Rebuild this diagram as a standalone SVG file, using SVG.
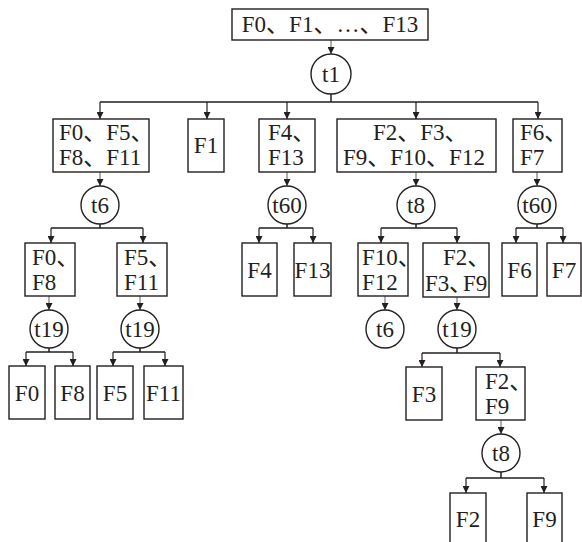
<svg xmlns="http://www.w3.org/2000/svg" width="582" height="542" viewBox="0 0 582 542">
<style>
rect, circle { fill: #fff; stroke: #231f20; stroke-width: 1.4; }
text { font-family: 'Liberation Serif', 'DejaVu Serif', 'Times New Roman', Times, serif; font-size: 23px; fill: #231f20; }
.c { font-family: 'Noto Sans CJK SC', sans-serif; }
.m { text-anchor: middle; }
.bar { stroke: #231f20; stroke-width: 1.5; fill: none; }
.arr { stroke: #231f20; stroke-width: 1.2; fill: none; marker-end: url(#ah); }
.sh { stroke: #777; stroke-width: 1.2; fill: none; marker-end: url(#ah); }
</style>
<defs>
<marker id="ah" viewBox="0 0 8 8" refX="8" refY="4" markerWidth="7" markerHeight="7" orient="auto" markerUnits="userSpaceOnUse">
<path d="M0,0 L8,4 L0,8 z" fill="#231f20"/>
</marker>
</defs>
<rect x="0" y="0" width="582" height="542" style="fill:#fff;stroke:none"/>
<g id="connectors">
<line class="sh" x1="331" y1="40" x2="331" y2="54"/>
<path class="bar" d="M331,94 V102 M100,102 H538"/>
<line class="arr" x1="100" y1="102" x2="100" y2="119"/>
<line class="arr" x1="207" y1="102" x2="207" y2="119"/>
<line class="arr" x1="287" y1="102" x2="287" y2="119"/>
<line class="arr" x1="416" y1="102" x2="416" y2="119"/>
<line class="arr" x1="538" y1="102" x2="538" y2="119"/>
<line class="sh" x1="100" y1="172" x2="100" y2="186"/>
<line class="sh" x1="287" y1="172" x2="287" y2="186"/>
<line class="sh" x1="416" y1="172" x2="416" y2="186"/>
<line class="sh" x1="537" y1="172" x2="537" y2="186"/>
<path class="bar" d="M100,224 V228 M51,228 H143 M287,224 V228 M259,228 H313 M416,224 V228 M381,228 H457 M537,224 V228 M516,228 H563"/>
<line class="arr" x1="51" y1="228" x2="51" y2="243"/>
<line class="arr" x1="143" y1="228" x2="143" y2="243"/>
<line class="arr" x1="259" y1="228" x2="259" y2="243"/>
<line class="arr" x1="313" y1="228" x2="313" y2="243"/>
<line class="arr" x1="381" y1="228" x2="381" y2="243"/>
<line class="arr" x1="457" y1="228" x2="457" y2="243"/>
<line class="arr" x1="516" y1="228" x2="516" y2="243"/>
<line class="arr" x1="563" y1="228" x2="563" y2="243"/>
<line class="sh" x1="49" y1="296" x2="49" y2="310"/>
<line class="sh" x1="140" y1="296" x2="140" y2="310"/>
<line class="sh" x1="385" y1="296" x2="385" y2="310"/>
<line class="sh" x1="457" y1="297" x2="457" y2="310"/>
<path class="bar" d="M49,348 V352 M26,352 H73 M140,348 V352 M113,352 H165 M457,348 V353 M422,353 H500"/>
<line class="arr" x1="26" y1="352" x2="26" y2="366"/>
<line class="arr" x1="73" y1="352" x2="73" y2="366"/>
<line class="arr" x1="113" y1="352" x2="113" y2="366"/>
<line class="arr" x1="165" y1="352" x2="165" y2="366"/>
<line class="arr" x1="422" y1="353" x2="422" y2="367"/>
<line class="arr" x1="500" y1="353" x2="500" y2="367"/>
<line class="sh" x1="501" y1="420" x2="501" y2="434"/>
<path class="bar" d="M501,472 V478 M466,478 H544"/>
<line class="arr" x1="466" y1="478" x2="466" y2="493"/>
<line class="arr" x1="544" y1="478" x2="544" y2="493"/>
</g>
<g id="n_root"><rect x="232" y="9" width="196" height="31"/><text class="m" x="330" y="32">F0<tspan class="c">、</tspan>F1<tspan class="c">、</tspan>…<tspan class="c">、</tspan>F13</text></g>
<g id="n_t1"><circle cx="331" cy="74" r="20"/><text class="m" x="331" y="82">t1</text></g>
<g id="n_A"><rect x="53" y="119" width="96" height="53"/><text x="59" y="140">F0<tspan class="c">、</tspan>F5<tspan class="c">、</tspan></text><text x="59" y="165">F8<tspan class="c">、</tspan>F11</text></g>
<g id="n_F1"><rect x="188" y="119" width="36" height="53"/><text class="m" x="206" y="153">F1</text></g>
<g id="n_F4F13"><rect x="259" y="119" width="56" height="53"/><text x="268" y="140">F4<tspan class="c">、</tspan></text><text x="268" y="165">F13</text></g>
<g id="n_B"><rect x="337" y="119" width="159" height="53"/><text x="373" y="140">F2<tspan class="c">、</tspan>F3<tspan class="c">、</tspan></text><text x="343" y="165">F9<tspan class="c">、</tspan>F10<tspan class="c">、</tspan>F12</text></g>
<g id="n_F6F7"><rect x="513" y="119" width="49" height="53"/><text x="520" y="140">F6<tspan class="c">、</tspan></text><text x="520" y="165">F7</text></g>
<g id="n_t6a"><circle cx="100" cy="205" r="19"/><text class="m" x="100" y="213">t6</text></g>
<g id="n_t60a"><circle cx="287" cy="205" r="19"/><text class="m" x="287" y="213">t60</text></g>
<g id="n_t8a"><circle cx="416" cy="205" r="19"/><text class="m" x="416" y="213">t8</text></g>
<g id="n_t60b"><circle cx="537" cy="205" r="19"/><text class="m" x="537" y="213">t60</text></g>
<g id="n_F0F8"><rect x="25" y="243" width="50" height="53"/><text x="32" y="265">F0<tspan class="c">、</tspan></text><text x="32" y="290">F8</text></g>
<g id="n_F5F11"><rect x="117" y="243" width="50" height="53"/><text x="124" y="265">F5<tspan class="c">、</tspan></text><text x="124" y="290">F11</text></g>
<g id="n_F4"><rect x="242" y="243" width="35" height="53"/><text class="m" x="259.5" y="278">F4</text></g>
<g id="n_F13"><rect x="294" y="243" width="37" height="53"/><text class="m" x="312.5" y="278">F13</text></g>
<g id="n_F10F12"><rect x="358" y="243" width="50" height="53"/><text x="362" y="265">F10<tspan class="c">、</tspan></text><text x="362" y="290">F12</text></g>
<g id="n_F2F3F9"><rect x="423" y="243" width="66" height="54"/><text x="443" y="265">F2<tspan class="c">、</tspan></text><text y="291"><tspan x="425">F3</tspan><tspan class="c" x="449">、</tspan><tspan x="463">F9</tspan></text></g>
<g id="n_F6"><rect x="502" y="243" width="35" height="53"/><text class="m" x="519.5" y="278">F6</text></g>
<g id="n_F7"><rect x="547" y="243" width="34" height="53"/><text class="m" x="564" y="278">F7</text></g>
<g id="n_t19a"><circle cx="49" cy="329" r="19"/><text class="m" x="49" y="337">t19</text></g>
<g id="n_t19b"><circle cx="140" cy="329" r="19"/><text class="m" x="140" y="337">t19</text></g>
<g id="n_t6b"><circle cx="385" cy="329" r="19"/><text class="m" x="385" y="337">t6</text></g>
<g id="n_t19c"><circle cx="457" cy="329" r="19"/><text class="m" x="457" y="337">t19</text></g>
<g id="n_F0"><rect x="9" y="366" width="36" height="53"/><text class="m" x="27" y="401">F0</text></g>
<g id="n_F8"><rect x="55" y="366" width="35" height="53"/><text class="m" x="72.5" y="401">F8</text></g>
<g id="n_F5"><rect x="97" y="366" width="36" height="53"/><text class="m" x="115" y="401">F5</text></g>
<g id="n_F11"><rect x="144" y="366" width="39" height="53"/><text class="m" x="163.5" y="401">F11</text></g>
<g id="n_F3"><rect x="406" y="367" width="36" height="53"/><text class="m" x="424" y="402">F3</text></g>
<g id="n_F2F9"><rect x="476" y="367" width="49" height="53"/><text x="485" y="389">F2<tspan class="c">、</tspan></text><text x="485" y="414">F9</text></g>
<g id="n_t8b"><circle cx="501" cy="453" r="19"/><text class="m" x="501" y="461">t8</text></g>
<g id="n_F2"><rect x="450" y="493" width="36" height="54"/><text class="m" x="468" y="527">F2</text></g>
<g id="n_F9"><rect x="527" y="493" width="35" height="54"/><text class="m" x="544.5" y="527">F9</text></g>
</svg>
